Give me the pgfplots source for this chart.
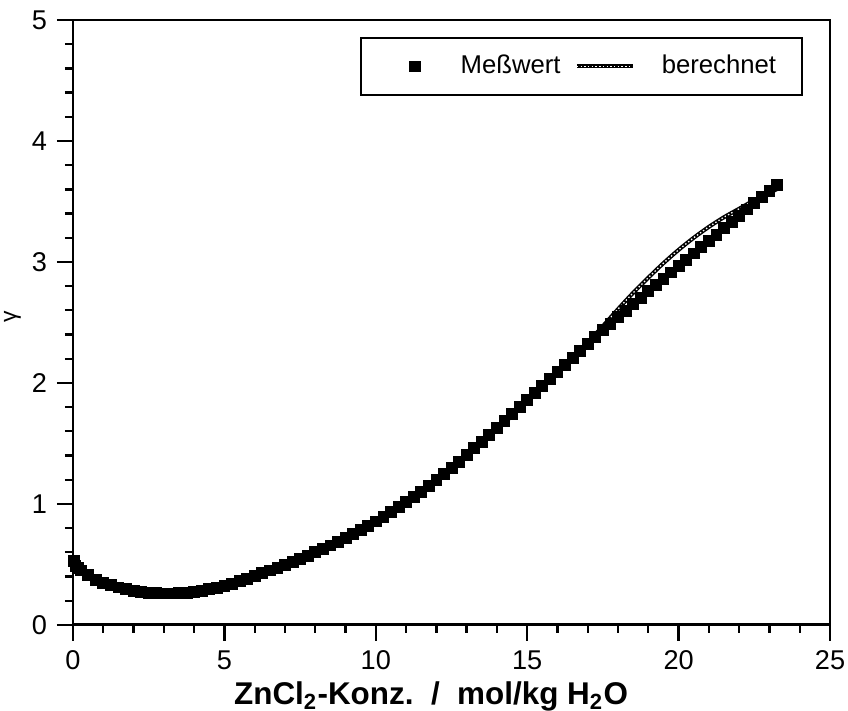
\documentclass[border=0pt]{standalone}
\usepackage{fontspec}
\setmainfont{Liberation Sans}
\usepackage{pgfplots}
\pgfplotsset{compat=1.18}
\pgfplotsset{mylegline/.style={legend image code/.code={\draw[##1] (0pt,0pt) -- (19.5pt,0pt);}},
  mylegmark/.style={legend image code/.code={\path[draw=none, fill=none] (0pt,-1pt) rectangle (18.5pt,1pt); \draw[##1] plot coordinates {(12pt,0pt)};}}}
\begin{document}
\begin{tikzpicture}
\begin{axis}[
  scale only axis, width=265pt, height=211.75pt,
  xmin=0, xmax=25, ymin=0, ymax=5,
  xtick={0,5,...,25}, ytick={0,1,...,5},
  minor x tick num=4, minor y tick num=4,
  tick align=outside, tick pos=left,
  major tick length=5.6pt, minor tick length=2.8pt,
  axis line style={line width=1pt},
  every tick/.style={black, line width=0.8pt},
  tick label style={font=\fontsize{9.5}{11}\selectfont},
  /pgf/number format/assume math mode=true,
  xlabel={\textbf{ZnCl\textsubscript{2}-Konz.~~/~~mol/kg H\textsubscript{2}O}},
  xlabel style={font=\fontsize{11}{13}\selectfont, at={(axis description cs:0.473,-0.119)}, anchor=center},
  ylabel={γ},
  ylabel style={font=\fontsize{8}{10}\selectfont, at={(axis description cs:-0.080,0.51)}, anchor=center},
  legend columns=2,
  legend style={at={(axis description cs:0.9643,0.972)}, anchor=north east, draw=black, line width=0.8pt,
    font=\fontsize{9}{11}\selectfont, inner xsep=7pt, inner ysep=3.9pt,
    /tikz/every odd column/.append style={column sep=7.5pt},
    /tikz/every even column/.append style={column sep=3pt}},
]
\addplot[only marks, mark=square*, mark size=1.9pt, mark options={fill=black, draw=black, line width=0.3pt}, mylegmark] coordinates {
(0.02,0.53) (0.08,0.49) (0.15,0.47) (0.25,0.45) (0.50,0.41) (0.75,0.375) (1.00,0.35) (1.25,0.328) (1.50,0.310) (1.75,0.295)
(2.00,0.283) (2.25,0.274) (2.50,0.267) (2.75,0.262) (3.00,0.260) (3.25,0.260) (3.50,0.262) (3.75,0.267)
(4.00,0.274) (4.25,0.283) (4.50,0.294) (4.75,0.308) (5.00,0.324) (5.25,0.342) (5.50,0.361) (5.75,0.383)
(6.00,0.405) (6.25,0.427) (6.50,0.450) (6.75,0.474) (7.00,0.498) (7.25,0.522) (7.50,0.547) (7.75,0.573)
(8.00,0.600) (8.25,0.628) (8.50,0.657) (8.75,0.687) (9.00,0.718) (9.25,0.750) (9.50,0.783) (9.75,0.818)
(10.00,0.855) (10.25,0.893) (10.50,0.932) (10.75,0.972) (11.00,1.015) (11.25,1.058) (11.50,1.102) (11.75,1.148)
(12.00,1.195) (12.25,1.245) (12.50,1.296) (12.75,1.350) (13.00,1.405) (13.25,1.460) (13.50,1.515) (13.75,1.572)
(14.00,1.630) (14.25,1.688) (14.50,1.745) (14.75,1.803) (15.00,1.860) (15.25,1.918) (15.50,1.975) (15.75,2.033)
(16.00,2.090) (16.25,2.148) (16.50,2.205) (16.75,2.262) (17.00,2.320) (17.25,2.378) (17.50,2.435) (17.75,2.490)
(18.00,2.545) (18.25,2.598) (18.50,2.652) (18.75,2.705) (19.00,2.758) (19.25,2.810) (19.50,2.862) (19.75,2.914)
(20.00,2.966) (20.25,3.018) (20.50,3.070) (20.75,3.122) (21.00,3.174) (21.25,3.226) (21.50,3.278) (21.75,3.330)
(22.00,3.382) (22.25,3.434) (22.50,3.486) (22.75,3.538) (23.00,3.590) (23.25,3.640)
};
\addlegendentry{Meßwert}
\addplot[black, line width=1.4pt, smooth, postaction={draw=white, line width=0.45pt, dash pattern=on 0.5pt off 0.8pt},
  mylegline] coordinates {
(0,0.48) (0.25,0.435) (0.5,0.40) (1,0.345) (1.5,0.305) (2,0.28) (3,0.262) (4,0.276) (5,0.325) (6,0.405)
(7,0.497) (8,0.598) (9,0.715) (10,0.85) (11,1.01) (12,1.19) (13,1.395) (14,1.615) (15,1.845) (16,2.08)
(17,2.335) (17.5,2.47) (18,2.61) (18.5,2.745) (19,2.87) (19.5,2.99) (20,3.10) (20.5,3.20) (21,3.29)
(21.5,3.37) (22,3.44) (22.5,3.51) (23,3.57) (23.3,3.61)
};
\addlegendentry{berechnet}
\end{axis}
\pgfresetboundingbox
\path ([xshift=-25.55pt,yshift=-30.1pt]current axis.south west) rectangle ([xshift=6.3pt,yshift=7pt]current axis.north east);
\end{tikzpicture}
\end{document}
